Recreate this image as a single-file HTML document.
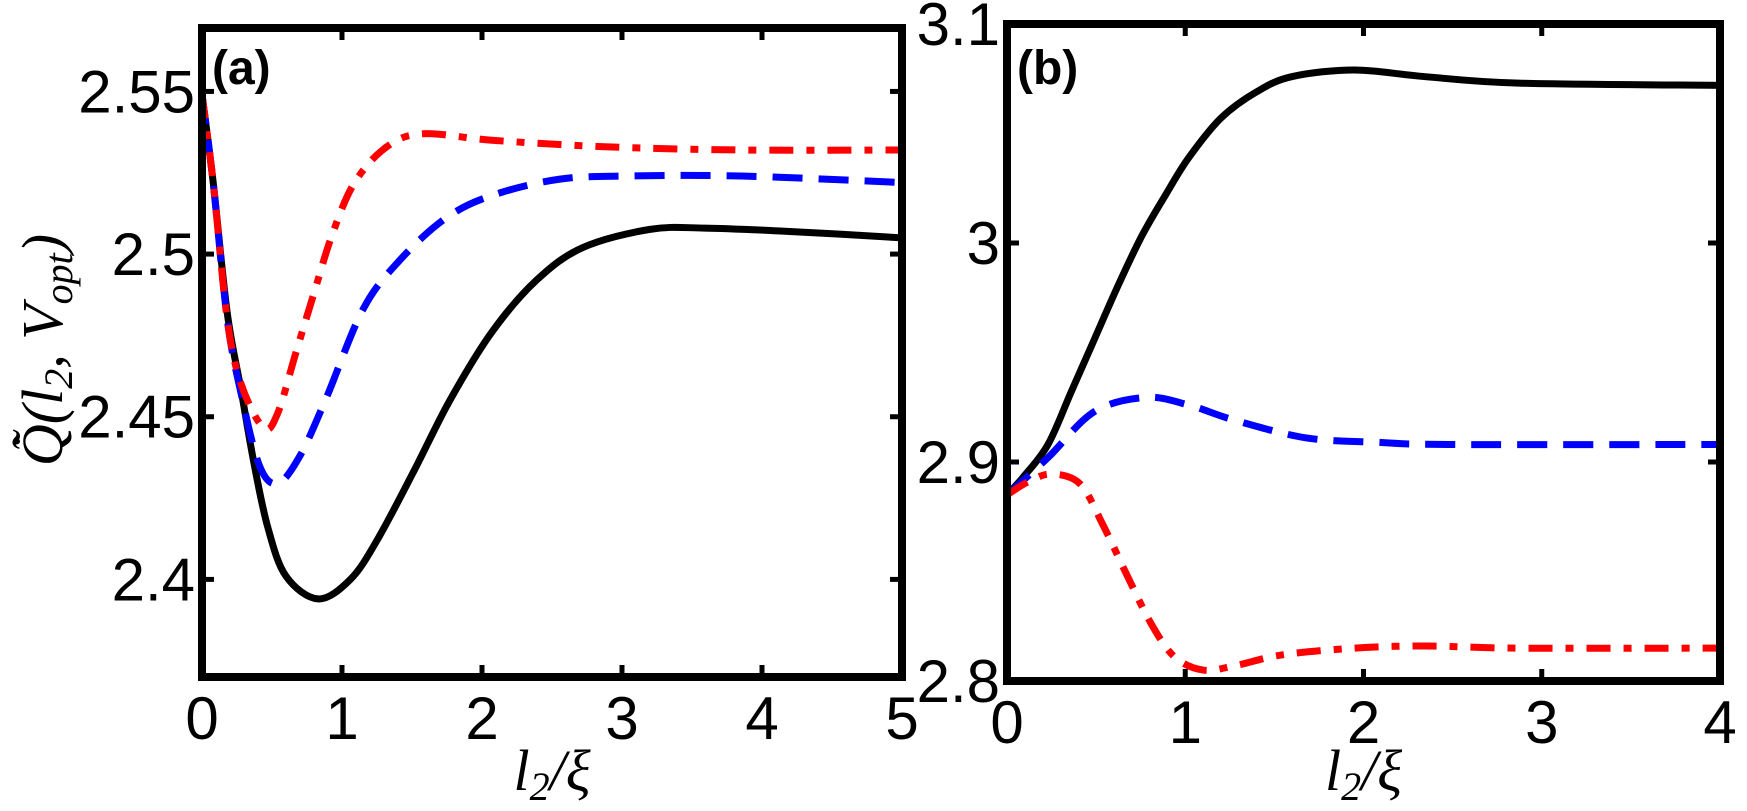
<!DOCTYPE html>
<html><head><meta charset="utf-8"><style>
html,body{margin:0;padding:0;background:#fff;}
svg{display:block;}
text{font-family:"Liberation Sans",Arial,sans-serif;}
.tick{font-size:60px;fill:#000;}
.math{font-family:"Liberation Serif",serif;font-style:italic;font-size:58px;}
</style></head><body>
<svg id="chart" width="1747" height="811" viewBox="0 0 1747 811">
</svg>
<script>
// Panel (a) data
const aX = [0,0.08,0.18,0.28,0.37,0.47,0.6,0.83,1.06,1.25,1.51,1.77,2.07,2.39,2.72,3.2,3.59,4.18,5];
const aBlack = [2.549,2.522,2.482,2.458,2.436,2.416,2.401,2.394,2.4,2.412,2.433,2.455,2.476,2.492,2.502,2.5076,2.508,2.507,2.505];
const aBlueX = [0,0.08,0.18,0.28,0.41,0.54,0.7,0.89,1.15,1.41,1.74,2.07,2.55,3.04,3.85,5];
const aBlue = [2.549,2.522,2.48,2.457,2.435,2.4295,2.438,2.456,2.483,2.498,2.511,2.518,2.523,2.524,2.524,2.522];
const aRedX = [0,0.08,0.18,0.28,0.44,0.54,0.67,0.8,0.93,1.09,1.32,1.58,2.07,2.88,3.85,5];
const aRed = [2.549,2.522,2.48,2.46,2.4466,2.451,2.4696,2.488,2.506,2.522,2.533,2.537,2.535,2.533,2.532,2.532];
const aXTicks = [0,1,2,3,4,5];
const aYTicks = [2.4,2.45,2.5,2.55];
const aYLabels = ["2.4","2.45","2.5","2.55"];
// Panel (b) data
const bBlackX = [0,0.09,0.23,0.36,0.49,0.62,0.755,0.89,1.02,1.2,1.4,1.6,1.95,2.34,2.87,4];
const bBlack = [2.885,2.893,2.908,2.932,2.956,2.98,3.003,3.022,3.039,3.057,3.069,3.076,3.079,3.076,3.073,3.072];
const bBlueX = [0,0.23,0.49,0.78,1.02,1.28,1.68,2.08,2.48,4];
const bBlue = [2.885,2.902,2.923,2.9295,2.926,2.919,2.911,2.909,2.908,2.908];
const bRedX = [0,0.12,0.25,0.41,0.54,0.675,0.81,0.94,1.1,1.28,1.55,1.95,2.34,2.87,4];
const bRed = [2.885,2.891,2.8945,2.89,2.871,2.848,2.826,2.811,2.805,2.807,2.812,2.815,2.816,2.815,2.815];
const bXTicks = [0,1,2,3,4];
const bYTicks = [2.8,2.9,3,3.1];
const bYLabels = ["2.8","2.9","3","3.1"];

const NS = "http://www.w3.org/2000/svg";
const svg = document.getElementById('chart');
function mk(tag, attrs, parent){ const e=document.createElementNS(NS,tag); for(const k in attrs) e.setAttribute(k,attrs[k]); (parent||svg).appendChild(e); return e; }

function smooth(pts){
  let d = `M${pts[0][0]},${pts[0][1]}`;
  for(let i=0;i<pts.length-1;i++){
    const p0=pts[i-1]||pts[i], p1=pts[i], p2=pts[i+1], p3=pts[i+2]||p2;
    const c1=[p1[0]+(p2[0]-p0[0])/6, p1[1]+(p2[1]-p0[1])/6];
    const c2=[p2[0]-(p3[0]-p1[0])/6, p2[1]-(p3[1]-p1[1])/6];
    d += ` C${c1[0]},${c1[1]} ${c2[0]},${c2[1]} ${p2[0]},${p2[1]}`;
  }
  return d;
}

function panel(cfg){
  const g = mk('g',{});
  
  
  const sx = v => cfg.L + (v-cfg.x0)/(cfg.x1-cfg.x0)*(cfg.R-cfg.L);
  const sy = v => cfg.B - (v-cfg.y0)/(cfg.y1-cfg.y0)*(cfg.B-cfg.T);
  const clipId = cfg.name+'-clip';
  const cp = mk('clipPath',{id:clipId},g); mk('rect',{x:cfg.L,y:cfg.T,width:cfg.R-cfg.L,height:cfg.B-cfg.T},cp);
  cfg.series.forEach(s=>{
    const pts = s.x.map((xv,i)=>[sx(xv), sy(s.y[i])]);
    const p = mk('path',{d:smooth(pts),fill:'none',stroke:s.color,'stroke-width':7,'stroke-dasharray':s.dash||'none','clip-path':`url(#${clipId})`},g);
    
    
  });
  const frame = mk('rect',{x:cfg.L,y:cfg.T,width:cfg.R-cfg.L,height:cfg.B-cfg.T,fill:'none',stroke:'#000','stroke-width':8},g);
  
  
  cfg.xt.forEach(v=>{
    const x=sx(v);
    mk('line',{x1:x,x2:x,y1:cfg.B,y2:cfg.B-12,stroke:'#000','stroke-width':5},g);
    mk('line',{x1:x,x2:x,y1:cfg.T,y2:cfg.T+12,stroke:'#000','stroke-width':5},g);
    const t = mk('text',{x:x,y:cfg.B+62,'text-anchor':'middle',class:'tick'},g);
    t.textContent = String(v);
    
    
  });
  cfg.yt.forEach((v,i)=>{
    const y=sy(v);
    mk('line',{x1:cfg.L,x2:cfg.L+12,y1:y,y2:y,stroke:'#000','stroke-width':5},g);
    mk('line',{x1:cfg.R,x2:cfg.R-12,y1:y,y2:y,stroke:'#000','stroke-width':5},g);
    const t = mk('text',{x:cfg.L-7,y:y+21,'text-anchor':'end',class:'tick'},g);
    t.textContent = cfg.yl[i];
    
    
  });
  const lab = mk('text',{x:cfg.L+10,y:84,'font-size':48,'font-weight':'bold'},g);
  lab.textContent = cfg.label;
  
  
  const xl = mk('text',{x:(cfg.L+cfg.R)/2,y:790,'text-anchor':'middle',class:'math'},g);
  xl.innerHTML = 'l<tspan font-size="40" dy="10">2</tspan><tspan dy="-10">/ξ</tspan>';
  
  
}

panel({name:'panel-a',L:202,R:902,T:28,B:677,x0:0,x1:5,y0:2.37,y1:2.5695,xt:aXTicks,yt:aYTicks,yl:aYLabels,label:'(a)',
  series:[{nm:'series-black-solid',x:aX,y:aBlack,color:'#000'},
          {nm:'series-blue-dashed',x:aBlueX,y:aBlue,color:'#0000ff',dash:'30 16'},
          {nm:'series-red-dashdot',x:aRedX,y:aRed,color:'#ff0000',dash:'24 13 8 13'}]});
panel({name:'panel-b',L:1007,R:1720,T:24,B:681,x0:0,x1:4,y0:2.8,y1:3.1,xt:bXTicks,yt:bYTicks,yl:bYLabels,label:'(b)',
  series:[{nm:'series-black-solid',x:bBlackX,y:bBlack,color:'#000'},
          {nm:'series-blue-dashed',x:bBlueX,y:bBlue,color:'#0000ff',dash:'30 16'},
          {nm:'series-red-dashdot',x:bRedX,y:bRed,color:'#ff0000',dash:'24 13 8 13'}]});

const yl = mk('text',{x:0,y:0,'text-anchor':'middle',class:'math',transform:'translate(62,350) rotate(-90)'});
yl.innerHTML = 'Q̃̇(l<tspan font-size="40" dy="10">2</tspan><tspan dy="-10">, V</tspan><tspan font-size="40" dy="10">opt</tspan><tspan dy="-10">)</tspan>';


</script>
</body></html>
